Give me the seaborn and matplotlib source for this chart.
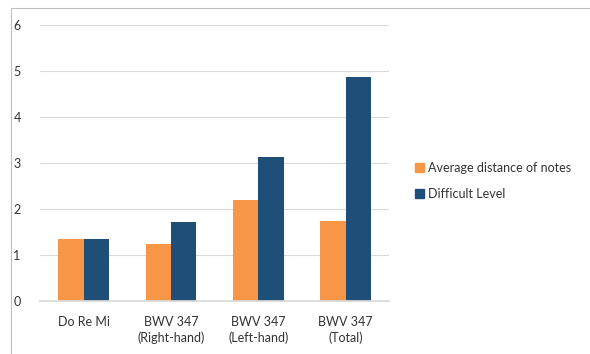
import matplotlib
matplotlib.use("Agg")
import matplotlib.pyplot as plt
import matplotlib.patches as mpatches
import seaborn as sns
import pandas as pd

categories = ["Do Re Mi", "BWV 347\n(Right-hand)", "BWV 347\n(Left-hand)", "BWV 347\n(Total)"]
avg_distance = [1.35, 1.24, 2.20, 1.74]
difficult_level = [1.35, 1.72, 3.13, 4.87]
series_names = ["Average distance of notes", "Difficult Level"]
colors = ["#F79646", "#1F4E79"]
y_ticks = [0, 1, 2, 3, 4, 5, 6]

df = pd.DataFrame({
    "category": categories * 2,
    "value": avg_distance + difficult_level,
    "series": [series_names[0]] * len(categories) + [series_names[1]] * len(categories),
})

sns.set_theme(style="white")
plt.rcParams["font.family"] = ["Lato", "DejaVu Sans"]

fig = plt.figure(figsize=(5.9, 3.54), dpi=100)
ax = fig.add_axes([0.068, 0.15, 0.592, 0.779])

sns.barplot(data=df, x="category", y="value", hue="series", palette=colors,
            width=0.58, saturation=1, linewidth=0, ax=ax, legend=False)

ax.set_ylim(0, 6)
ax.set_yticks(y_ticks)
ax.set_xlim(-0.5, 3.5)
ax.yaxis.grid(True, color="#D9D9D9", linewidth=0.8)
ax.set_axisbelow(True)
for side in ["top", "right", "left"]:
    ax.spines[side].set_visible(False)
ax.spines["bottom"].set_color("#D9D9D9")
ax.tick_params(axis="both", length=0, labelsize=9, colors="#333333")
ax.tick_params(axis="y", pad=14)
ax.tick_params(axis="x", pad=11)
for lbl in ax.get_xticklabels():
    lbl.set_linespacing(1.35)
ax.set_xlabel("")
ax.set_ylabel("")

handles = [mpatches.Patch(color=c, label=n) for c, n in zip(colors, series_names)]
fig.legend(handles=handles, loc="upper left", bbox_to_anchor=(0.685, 0.575),
           frameon=False, fontsize=9, handlelength=0.7, handleheight=0.7,
           handletextpad=0.3, labelspacing=1.15, labelcolor="#333333")

# light chart-area border
fig.patches.append(mpatches.Rectangle((0.019, -0.01), 1.0, 0.987, transform=fig.transFigure,
                                      fill=False, edgecolor="#BFBFBF", linewidth=0.8))

fig.savefig("out.png", dpi=100)
